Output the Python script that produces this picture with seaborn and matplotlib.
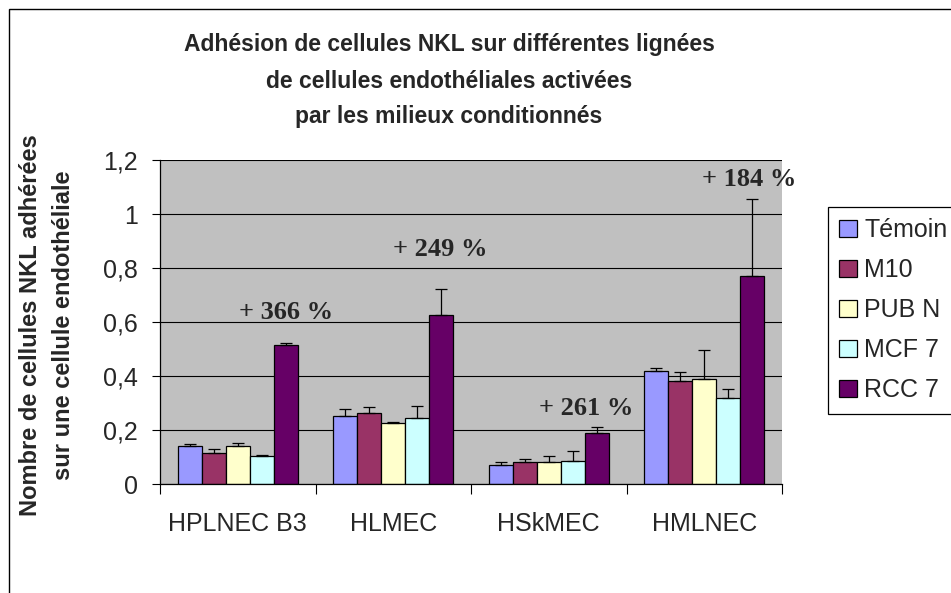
import matplotlib
matplotlib.use("Agg")
import matplotlib.pyplot as plt
from matplotlib.patches import Rectangle
from matplotlib.ticker import FuncFormatter, FixedLocator
import numpy as np
import pandas as pd
import seaborn as sns

# Endothelial cell lines and conditioned media
lignees = ["HPLNEC B3", "HLMEC", "HSkMEC", "HMLNEC"]
milieux = ["Témoin", "M10", "PUB N", "MCF 7", "RCC 7"]

# Mean number of adherent NKL cells per endothelial cell (one list per medium)
temoin = [0.140, 0.252, 0.072, 0.418]
m10 = [0.116, 0.264, 0.080, 0.383]
pub_n = [0.140, 0.225, 0.080, 0.390]
mcf7 = [0.104, 0.246, 0.086, 0.317]
rcc7 = [0.513, 0.627, 0.188, 0.769]

# Upper error bars
err_temoin = [0.007, 0.025, 0.009, 0.013]
err_m10 = [0.012, 0.020, 0.014, 0.031]
err_pub_n = [0.013, 0.006, 0.024, 0.106]
err_mcf7 = [0.002, 0.044, 0.037, 0.034]
err_rcc7 = [0.008, 0.095, 0.023, 0.285]

# Increase RCC 7 vs Témoin
hausse = ["+ 366 %", "+ 249 %", "+ 261 %", "+ 184 %"]
hausse_pos = [(0.309, 0.634), (1.305, 0.867), (2.238, 0.281), (3.286, 1.126)]

couleurs = ["#9999FF", "#993366", "#FFFFCC", "#CCFFFF", "#660066"]

titre = ["Adhésion de cellules NKL sur différentes lignées",
         "de cellules endothéliales activées",
         "par les milieux conditionnés"]
ylabel_lignes = ["Nombre de cellules NKL adhérées", "sur une cellule endothéliale"]
yticks = [0, 0.2, 0.4, 0.6, 0.8, 1.0, 1.2]

valeurs = [temoin, m10, pub_n, mcf7, rcc7]
erreurs = [err_temoin, err_m10, err_pub_n, err_mcf7, err_rcc7]

df = pd.DataFrame({
    "lignee": np.tile(lignees, len(milieux)),
    "milieu": np.repeat(milieux, len(lignees)),
    "valeur": np.concatenate(valeurs),
})

sns.set_style("white")
plt.rcParams["font.family"] = ["Liberation Sans", "DejaVu Sans"]

W, H = 951, 593
fig = plt.figure(figsize=(W / 100, H / 100), dpi=100)
fig.patch.set_facecolor("white")
ax = fig.add_axes([160 / W, 1 - 484 / H, 622 / W, 324 / H])
ax.set_facecolor("#C0C0C0")

sns.barplot(data=df, x="lignee", y="valeur", hue="milieu", order=lignees,
            hue_order=milieux, palette=couleurs, saturation=1, width=0.772,
            edgecolor="black", linewidth=0.9, errorbar=None, ax=ax)

# Upper error bars on every bar
for cont, errs in zip(ax.containers, erreurs):
    xs = [b.get_x() + b.get_width() / 2 for b in cont]
    hs = [b.get_height() for b in cont]
    ax.errorbar(xs, hs, yerr=[np.zeros(len(errs)), errs], fmt="none",
                ecolor="black", elinewidth=0.9, capsize=4.5, capthick=0.9,
                zorder=4)

# Percent increase labels
for txt, (x, y) in zip(hausse, hausse_pos):
    ax.text(x, y, txt, ha="center", va="center", fontsize=19,
            fontweight="bold", family=["Liberation Serif", "DejaVu Serif"])

ax.set_xlim(-0.5, len(lignees) - 0.5)
ax.set_ylim(0, 1.2)
ax.set_yticks(yticks)
ax.yaxis.set_major_formatter(FuncFormatter(lambda v, p: f"{v:g}".replace(".", ",")))
ax.yaxis.grid(True, color="black", linewidth=0.8)
ax.set_axisbelow(True)
ax.set_xlabel("")
ax.set_ylabel("")

ax.tick_params(axis="y", which="major", direction="out", length=6, width=0.8,
               color="black", labelsize=18, pad=10, left=True)
ax.tick_params(axis="x", which="major", length=0, labelsize=18, pad=20)
ax.xaxis.set_minor_locator(FixedLocator(np.arange(-0.5, len(lignees), 1.0)))
ax.tick_params(axis="x", which="minor", direction="out", length=7, width=0.8,
               color="black", bottom=True)

for side in ["top", "right"]:
    ax.spines[side].set_visible(False)
for side in ["left", "bottom"]:
    ax.spines[side].set_color("black")
    ax.spines[side].set_linewidth(0.9)

# Legend box on the right
handles, labels = ax.get_legend_handles_labels()
ax.legend(handles, labels, loc="upper left", bbox_to_anchor=(828 / W, 1 - 207 / H),
          bbox_transform=fig.transFigure, fontsize=18, frameon=True,
          fancybox=False, edgecolor="black", framealpha=1, borderpad=0.45,
          handlelength=0.72, handleheight=0.72, handletextpad=0.28,
          labelspacing=0.64, borderaxespad=0)
ax.get_legend().get_frame().set_linewidth(0.9)

# Title
for i, ligne in enumerate(titre):
    fig.text(449 / W, 1 - (45 + 36 * i) / H, ligne, ha="center", va="center",
             fontsize=16.5, fontweight="bold")

# Y axis label (two lines)
for x, ligne in zip([31, 63], ylabel_lignes):
    fig.text(x / W, 1 - 325 / H, ligne, rotation=90, ha="center", va="center",
             fontsize=17, fontweight="bold")

# Chart area frame
fig.patches.append(Rectangle((9 / W, -0.1), 2.0, 1.1 - 9 / H,
                             transform=fig.transFigure, fill=False,
                             edgecolor="black", linewidth=1.0))

fig.savefig("out.png", dpi=100)
